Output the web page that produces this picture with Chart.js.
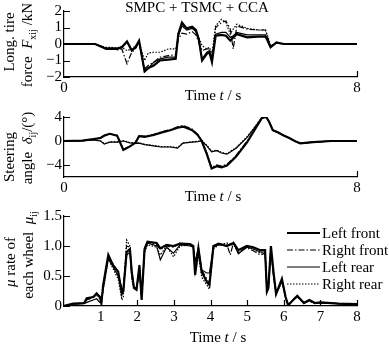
<!DOCTYPE html>
<html><head><meta charset="utf-8">
<script src="https://cdn.jsdelivr.net/npm/chart.js@4.4.0/dist/chart.umd.min.js"></script>
<style>
html,body{margin:0;padding:0;background:#fff;}
body{width:389px;height:348px;position:relative;overflow:hidden;}
canvas{position:absolute;left:0;}
</style>
</head><body>
<canvas id="c1" width="389" height="105" style="top:0px"></canvas>
<canvas id="c2" width="389" height="105" style="top:100px"></canvas>
<canvas id="c3" width="389" height="148" style="top:200px"></canvas>
<script>
// ---------- DATA ----------
const seriesNames = ['Left front', 'Right front', 'Left rear', 'Right rear'];

// Panel 1: longitudinal tire force (kN)
const tForce = [0,0.85,1.05,1.15,1.3,1.45,1.58,1.72,1.85,1.95,2.05,2.2,2.3,2.45,2.62,2.85,3.05,3.12,3.22,3.35,3.5,3.6,3.68,3.77,3.9,3.97,4.04,4.14,4.3,4.42,4.54,4.62,4.72,5.0,5.3,5.5,5.56,5.64,5.8,6.0,8.0];
const forceLF = [0,0,-0.2,-0.3,-0.28,-0.3,-0.2,0.15,-0.4,-0.2,0.2,-1.65,-1.45,-1.3,-1.0,-0.95,-0.9,0.6,1.3,0.95,1.05,0.85,0.3,-1.0,-0.6,-0.5,-1.1,0.5,0.55,0.5,0.2,0.4,0.6,0.4,0.45,0.45,0.2,-0.2,0.1,0,0];
const forceRF = [0,0,-0.15,-0.3,-0.3,-0.35,-0.3,-1.2,-0.5,-0.3,0.1,-1.5,-1.3,-1.1,-0.8,-0.7,-0.65,0.3,0.65,0.6,0.75,0.55,0.1,-0.4,-0.3,-0.3,-0.9,1.0,1.3,1.4,0.9,-0.3,1.1,0.9,0.85,0.85,0.4,-0.15,0.05,0,0];
const forceLR = [0,0,-0.2,-0.25,-0.25,-0.25,-0.15,0.1,-0.35,-0.2,0.15,-1.7,-1.5,-1.1,-0.9,-0.8,-0.8,0.5,1.1,0.85,0.95,0.75,0.2,-0.9,-0.5,-0.4,-1.0,0.6,0.7,0.7,0.4,0.5,0.7,0.55,0.55,0.55,0.25,-0.2,0.1,0,0];
const forceRR = [0,0,-0.15,-0.2,-0.2,-0.25,-0.2,-0.4,-0.3,-0.1,0.1,-1.0,-0.55,-0.5,-0.5,-0.3,-0.3,0.5,1.2,0.9,1.0,0.8,0.4,-0.1,-0.3,-0.2,-0.6,1.1,1.5,1.3,0.6,0.9,1.2,0.95,0.85,0.85,0.5,-0.1,0.05,0,0];

// Panel 2: steering angle (deg)
const tSteer = [0,0.5,0.8,1.0,1.1,1.25,1.45,1.62,1.8,1.95,2.05,2.2,2.45,2.65,2.9,3.1,3.25,3.5,3.65,3.76,3.9,4.03,4.17,4.3,4.45,4.7,5.0,5.2,5.4,5.52,5.6,5.7,5.85,6.0,6.15,6.3,6.45,6.8,7.3,8.0];
const steerLF = [0,0.05,0.3,0.5,0.9,1.2,0.9,-1.5,-0.9,-0.3,0.8,0.7,1.0,1.4,1.8,2.2,2.4,1.8,1.0,0.0,-2.2,-4.6,-4.2,-4.4,-4.1,-2.6,-0.2,1.8,3.8,4.0,3.2,1.8,1.4,0.9,0.5,0.0,-0.4,-0.2,0,0];
const steerRF = [0,0.05,0.3,0.55,0.95,1.2,0.95,-1.4,-0.85,-0.25,0.85,0.8,1.1,1.5,1.9,2.35,2.6,2.0,1.1,0.1,-2.0,-4.4,-4.0,-4.2,-3.9,-2.4,0.0,1.9,3.85,4.05,3.3,1.9,1.45,0.95,0.5,0.0,-0.35,-0.2,0,0];
const steerLR = [0,0.05,0.2,0.0,-0.5,-0.2,-0.2,0.0,-0.3,-0.4,-0.35,-0.6,-0.8,-1.0,-1.0,-1.2,-0.35,-0.2,-0.1,0.0,-0.8,-1.8,-1.6,-2.0,-2.2,-1.2,0.6,2.2,3.9,4.0,3.2,1.8,1.4,0.9,0.5,0.0,-0.4,-0.2,0,0];
const steerRR = [0,0.05,0.2,0.0,-0.45,-0.15,-0.15,0.05,-0.25,-0.35,-0.3,-0.55,-0.75,-0.95,-0.95,-1.1,-0.3,-0.15,-0.05,0.05,-0.7,-1.7,-1.5,-1.9,-2.1,-1.1,0.7,2.3,3.9,4.0,3.2,1.8,1.4,0.9,0.5,0.0,-0.4,-0.2,0,0];

// Panel 3: mu rate of each wheel
const tMu = [0,0.25,0.55,0.62,0.8,0.89,0.98,1.02,1.07,1.21,1.34,1.48,1.58,1.62,1.71,1.8,1.85,1.91,1.98,2.06,2.12,2.2,2.28,2.53,2.63,2.8,2.99,3.17,3.44,3.53,3.58,3.67,3.76,3.9,3.97,4.08,4.22,4.45,4.54,4.63,4.76,4.99,5.17,5.36,5.49,5.54,5.58,5.65,5.72,5.79,5.95,6.05,6.12,6.3,6.37,6.55,6.7,6.85,7.0,7.5,8.0];
const muLF = [0,0.04,0.05,0.13,0.15,0.21,0.15,0.05,0.35,0.85,0.68,0.57,0.2,0.25,0.9,0.95,0.57,0.3,0.27,0.68,0.1,0.95,1.07,1.05,0.96,1.02,1.0,1.04,1.03,1.0,0.52,0.96,0.57,0.4,0.35,1.0,1.04,1.0,1.03,1.05,0.93,1.0,0.98,0.93,0.93,0.24,0.3,1.0,0.57,0.2,0.45,0.15,0.01,0.13,0.17,0.05,0.1,0.05,0.06,0.04,0.03];
const muRF = [0,0.03,0.05,0.1,0.14,0.2,0.16,0.06,0.3,0.82,0.7,0.55,0.25,0.3,1.0,0.98,0.6,0.3,0.28,0.6,0.15,0.98,1.06,1.02,0.94,1.0,0.98,1.05,1.02,1.0,0.6,0.9,0.6,0.45,0.38,1.0,1.03,1.02,0.85,1.06,0.9,0.97,0.92,0.85,0.88,0.3,0.35,0.98,0.55,0.22,0.42,0.16,0.02,0.12,0.16,0.05,0.09,0.05,0.05,0.04,0.03];
const muLR = [0,0.03,0.04,0.06,0.1,0.12,0.06,0.05,0.3,0.8,0.65,0.5,0.3,0.28,0.85,0.9,0.5,0.32,0.3,0.62,0.12,0.92,1.05,1.0,0.77,0.98,0.88,1.02,1.0,0.98,0.74,0.98,0.6,0.55,0.55,0.98,1.02,1.0,1.02,1.04,0.87,0.98,0.95,0.9,0.9,0.25,0.28,0.95,0.5,0.2,0.42,0.14,0.02,0.12,0.16,0.05,0.1,0.05,0.05,0.04,0.02];
const muRR = [0,0.03,0.05,0.12,0.15,0.18,0.12,0.06,0.25,0.78,0.62,0.45,0.1,0.15,1.1,1.0,0.45,0.28,0.3,0.55,0.2,0.9,1.02,0.98,0.85,1.0,0.82,1.0,1.02,1.0,0.55,0.85,0.48,0.35,0.28,0.95,1.02,1.05,1.0,1.05,0.88,1.0,0.95,0.88,0.9,0.28,0.3,0.92,0.5,0.2,0.4,0.15,0.02,0.12,0.15,0.05,0.08,0.04,0.05,0.04,0.03];

// Tick values
const xTicksTop = [0, 8];
const xTicksMu = [1, 2, 3, 4, 5, 6, 7, 8];
const yTicksForce = [-2, -1, 0, 1, 2];
const yTicksSteer = [-4, 0, 4];
const yTicksMu = [0, 0.5, 1.0, 1.5];

// ---------- STYLE ----------
const SERIF = "'Liberation Serif','Times New Roman',serif";
Chart.defaults.font.family = SERIF;
Chart.defaults.font.size = 15;
Chart.defaults.color = '#000';

const lineStyles = [
  {w: 2.2, dash: []},
  {w: 1.2, dash: [6, 2, 1.5, 2]},
  {w: 1.2, dash: []},
  {w: 1.2, dash: [1.5, 1.5]}
];

function makeDatasets(times, arrs) {
  return arrs.map((a, i) => ({
    label: seriesNames[i],
    data: times.map((t, k) => ({x: t, y: a[k]})),
    borderColor: '#000',
    borderWidth: lineStyles[i].w,
    borderDash: lineStyles[i].dash,
    pointRadius: 0,
    fill: false,
    tension: 0
  }));
}

function fontStr(style, size) {
  const it = style.includes('i') ? 'italic ' : '';
  const sz = style.includes('s') ? Math.round(size * 0.68) : size;
  return it + sz + 'px ' + SERIF;
}

function rich(ctx, segs, cx, cy, rot, size) {
  size = size || 15;
  ctx.save();
  ctx.translate(cx, cy);
  ctx.rotate(rot);
  ctx.fillStyle = '#000';
  ctx.textBaseline = 'alphabetic';
  ctx.textAlign = 'left';
  let total = 0; const ws = [];
  segs.forEach(([t, s]) => { ctx.font = fontStr(s, size); const w = ctx.measureText(t).width; ws.push(w); total += w; });
  let x = -total / 2;
  segs.forEach(([t, s], i) => {
    ctx.font = fontStr(s, size);
    const dy = s.includes('s') ? size * 0.35 + size * 0.22 : size * 0.35;
    ctx.fillText(t, x, dy);
    x += ws[i];
  });
  ctx.restore();
}

function decoPlugin(cfg) {
  return {
    id: 'deco',
    afterDraw(chart) {
      const ctx = chart.ctx;
      const xs = chart.scales.x, ys = chart.scales.y;
      const area = chart.chartArea;
      ctx.save();
      ctx.strokeStyle = '#000';
      ctx.lineWidth = 1.2;
      ctx.setLineDash([]);
      ctx.beginPath();
      ys.ticks.forEach(t => {
        const y = Math.round(ys.getPixelForValue(t.value)) + 0.5;
        ctx.moveTo(area.left, y); ctx.lineTo(area.left + 6, y);
      });
      cfg.xTickMarks.forEach(v => {
        const x = Math.round(xs.getPixelForValue(v)) + 0.5;
        ctx.moveTo(x, area.bottom); ctx.lineTo(x, area.bottom - 6);
      });
      ctx.stroke();
      ctx.restore();
      cfg.texts.forEach(tx => rich(ctx, tx.segs, tx.x, tx.y, tx.rot || 0, tx.size));
      if (cfg.legend) {
        const L = cfg.legend;
        chart.data.datasets.forEach((ds, i) => {
          const y = L.y + i * L.dy;
          ctx.save();
          ctx.strokeStyle = '#000';
          ctx.lineWidth = ds.borderWidth;
          ctx.setLineDash(ds.borderDash);
          ctx.beginPath();
          ctx.moveTo(L.x1, y); ctx.lineTo(L.x2, y);
          ctx.stroke();
          ctx.restore();
          ctx.save();
          ctx.fillStyle = '#000';
          ctx.font = '15px ' + SERIF;
          ctx.textBaseline = 'middle';
          ctx.fillText(ds.label, L.x2 + 2, y + 1);
          ctx.restore();
        });
      }
    }
  };
}

function makeChart(id, o) {
  const H = document.getElementById(id).height;
  return new Chart(document.getElementById(id), {
    type: 'line',
    data: {datasets: makeDatasets(o.times, o.series)},
    options: {
      responsive: false, animation: false, devicePixelRatio: 1, events: [],
      layout: {padding: {left: 0, right: 32, top: o.top, bottom: 0}},
      plugins: {legend: {display: false}, tooltip: {enabled: false}, title: {display: false}},
      scales: {
        x: {
          type: 'linear', min: 0, max: 8,
          afterBuildTicks: s => { s.ticks = o.xTicks.map(v => ({value: v})); },
          afterFit: s => { s.height = H - o.bottom; },
          grid: {display: true, drawOnChartArea: false, drawTicks: false},
          border: {display: true, color: '#000', width: 1.2},
          ticks: {padding: 2, maxRotation: 0, minRotation: 0, autoSkip: false, callback: v => String(v)}
        },
        y: {
          min: o.ymin, max: o.ymax,
          afterBuildTicks: s => { s.ticks = o.yTicks.map(v => ({value: v})); },
          afterFit: s => { s.width = 64; },
          grid: {display: true, drawOnChartArea: false, drawTicks: false},
          border: {display: true, color: '#000', width: 1.2},
          ticks: {padding: 2, autoSkip: false, callback: o.yFmt}
        }
      }
    },
    plugins: [decoPlugin(o.deco)]
  });
}

const timeLabel = [['Time ', 'n'], ['t', 'i'], [' / s', 'n']];
const R = -Math.PI / 2;

makeChart('c1', {
  times: tForce, series: [forceLF, forceRF, forceLR, forceRR],
  top: 10, bottom: 77, ymin: -2, ymax: 2,
  xTicks: xTicksTop, yTicks: yTicksForce,
  yFmt: v => v < 0 ? '\u2212' + Math.abs(v) : String(v),
  deco: {
    xTickMarks: [8],
    texts: [
      {segs: [['SMPC + TSMC + CCA', 'n']], x: 197, y: 7},
      {segs: [['Long. tire', 'n']], x: 9, y: 42, rot: R},
      {segs: [['force  ', 'n'], ['F', 'i'], ['xij', 's'], [' /kN', 'n']], x: 27, y: 45, rot: R},
      {segs: timeLabel, x: 213, y: 95}
    ]
  }
});

makeChart('c2', {
  times: tSteer, series: [steerLF, steerRF, steerLR, steerRR],
  top: 17, bottom: 77, ymin: -6, ymax: 4,
  xTicks: xTicksTop, yTicks: yTicksSteer,
  yFmt: v => v < 0 ? '\u2212' + Math.abs(v) : String(v),
  deco: {
    xTickMarks: [8],
    texts: [
      {segs: [['Steering', 'n']], x: 9, y: 57, rot: R},
      {segs: [['angle  ', 'n'], ['\u03b4', 'i'], ['ij', 's'], ['/(\u00b0)', 'n']], x: 27, y: 48, rot: R},
      {segs: timeLabel, x: 213, y: 96}
    ]
  }
});

makeChart('c3', {
  times: tMu, series: [muLF, muRF, muLR, muRR],
  top: 16, bottom: 106, ymin: 0, ymax: 1.5,
  xTicks: xTicksMu, yTicks: yTicksMu,
  yFmt: v => v === 0 ? '0' : v.toFixed(1),
  deco: {
    xTickMarks: xTicksMu,
    texts: [
      {segs: [['\u03bc', 'i'], [' rate of', 'n']], x: 10, y: 62, rot: R},
      {segs: [['each wheel  ', 'n'], ['\u03bc', 'i'], ['ij', 's']], x: 28, y: 55, rot: R},
      {segs: timeLabel, x: 218, y: 137}
    ],
    legend: {x1: 287, x2: 320, y: 33, dy: 17}
  }
});
</script>
</body></html>
